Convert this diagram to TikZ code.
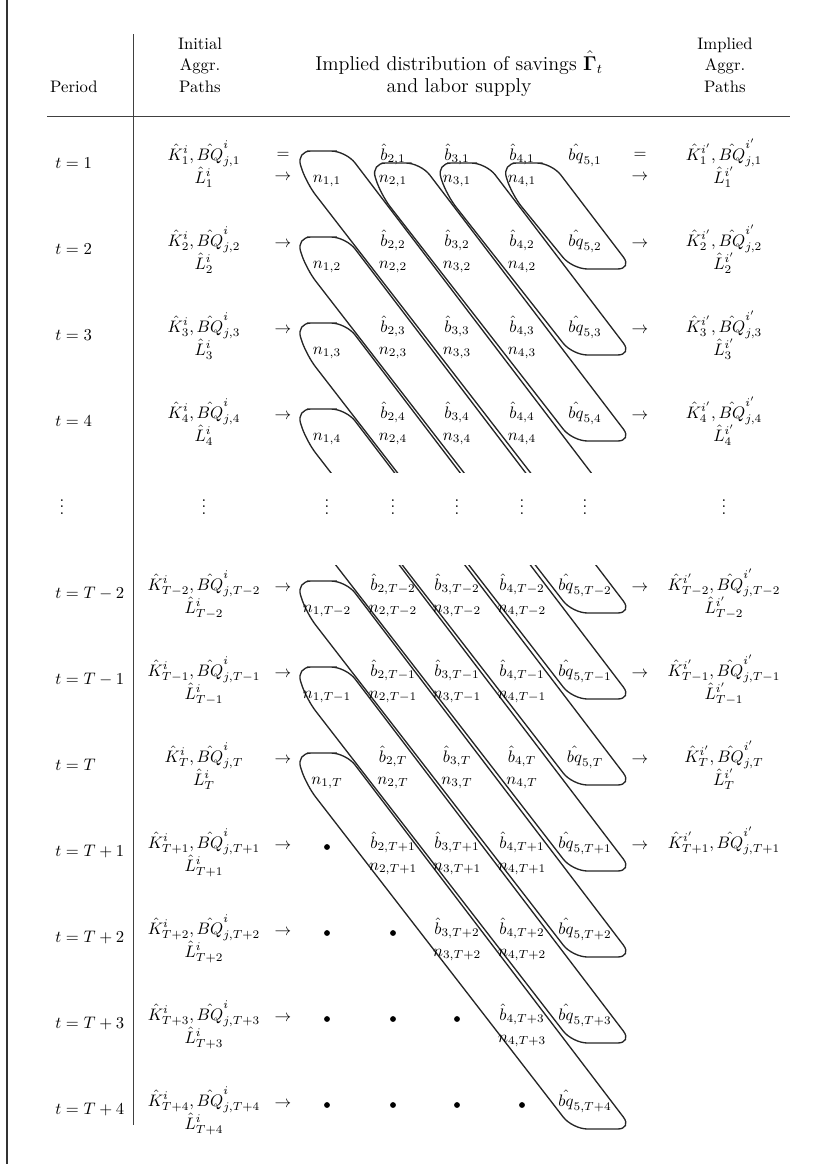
\documentclass[tikz,border=0pt]{standalone}
\usepackage{amsmath}
\usepackage{amssymb}
\usepackage{tikz}

\tikzset{
  lbl/.style={anchor=base,inner sep=0pt},
  perlbl/.style={anchor=base west,inner sep=0pt},
  sym/.style={inner sep=0pt},
  capsule/.style={draw=black!85,line width=0.8pt,rounded corners=9pt},
  emptydot/.style={circle,fill=black,inner sep=0pt,minimum size=3.5pt},
  tablerule/.style={draw=black!75,line width=0.5pt}
}

\newcommand{\cohortloop}[2]{%
  \pgfmathsetmacro\ytop{#2}%
  \pgfmathsetmacro\ybot{183+86*(#1+4)}%
  \pgfmathsetmacro\xtop{305+0.762*(\ytop-176-86*#1)}%
  \pgfmathsetmacro\xbot{305+0.762*(\ybot-176-86*#1)}%
  \draw[capsule] ({\xtop+36},\ytop) -- ({\xtop+60},\ytop)
    -- ({\xbot+60},\ybot) -- (\xbot,\ybot)
    -- ({\xtop+20.4},\ytop+32) -- ({\xtop+10},\ytop) -- cycle;}

\begin{document}
\begin{tikzpicture}[x=0.6pt,y=-0.6pt]
    \useasboundingbox (0,0) rectangle (820,1164);
    \draw[line width=1pt,black!80] (7,0) -- (7,1164);
    \draw[tablerule] (133,34) -- (133,1125);
    \draw[tablerule] (47,116) -- (790,116);

    \node[lbl] (hd-period) at (74,92) {Period};
    \node[lbl] (hd-init1) at (200,49) {Initial};
    \node[lbl] (hd-init2) at (200,70) {Aggr.};
    \node[lbl] (hd-init3) at (200,92) {Paths};
    \node[lbl,font=\large] (hd-dist1) at (459,70)
      {Implied distribution of savings $\hat{\mathbf{\Gamma}}_t$};
    \node[lbl,font=\large] (hd-dist2) at (459,92) {and labor supply};
    \node[lbl] (hd-impl1) at (725,49) {Implied};
    \node[lbl] (hd-impl2) at (725,70) {Aggr.};
    \node[lbl] (hd-impl3) at (725,92) {Paths};

    \begin{scope}
      \clip (0,0) rectangle (820,472);
      \foreach \cid in {-3,-2,-1} {\cohortloop{\cid}{163}}
      \foreach \cid in {0,...,3} {\cohortloop{\cid}{151+86*\cid}}
    \end{scope}
    \begin{scope}
      \clip (0,565) rectangle (820,1164);
      \foreach \cid in {1,...,7} {\cohortloop{\cid}{151+86*\cid}}
    \end{scope}

    \foreach \row/\lab in {0/1,1/2,2/3,3/4} {
      \pgfmathsetmacro\yk{155+86*\row}
      \node[perlbl] (per-\row) at (55,\yk+13) {$t=\lab$};
      \node[lbl] (ink-\row) at (204,\yk+5)
        {$\hat{K}^{i}_{\lab}, \hat{BQ}^{i}_{j,\lab}$};
      \node[lbl] (inl-\row) at (204,\yk+28) {$\hat{L}^{i}_{\lab}$};
      \node[lbl] (n1-\row) at (327,\yk+27) {$n_{1,\lab}$};
      \foreach \col/\cx in {2/393,3/457,4/522} {
        \node[lbl] (b\col-\row) at (\cx,\yk+5) {$\hat{b}_{\col,\lab}$};
        \node[lbl] (n\col-\row) at (\cx,\yk+27) {$n_{\col,\lab}$};
      }
      \node[lbl] (bq-\row) at (585,\yk+5) {$\hat{bq}_{5,\lab}$};
      \node[lbl] (outk-\row) at (724,\yk+5)
        {$\hat{K}^{i'}_{\lab}, \hat{BQ}^{i'}_{j,\lab}$};
      \node[lbl] (outl-\row) at (724,\yk+28) {$\hat{L}^{i'}_{\lab}$};
    }

    \foreach \x [count=\n] in {62,204,327,393,457,522,585,724} {
      \node[sym] (vd-\n) at (\x,502) {$\vdots$};
    }

    \foreach \row/\lab in {5/T-2,6/T-1,7/T,8/T+1,9/T+2,10/T+3,11/T+4} {
      \pgfmathsetmacro\yk{155+86*\row}
      \node[perlbl] (per-\row) at (55,\yk+13) {$t=\lab$};
      \node[lbl] (ink-\row) at (204,\yk+5)
        {$\hat{K}^{i}_{\lab}, \hat{BQ}^{i}_{j,\lab}$};
      \node[lbl] (inl-\row) at (204,\yk+28) {$\hat{L}^{i}_{\lab}$};
      \foreach \col/\cx in {1/327,2/393,3/457,4/522,5/585} {
        \pgfmathtruncatemacro\coh{\row-\col+1}
        \ifnum\coh>7
          \node[emptydot] (d\col-\row) at (\cx,\yk+4) {};
        \else
          \ifnum\col=1
            \node[lbl] (n1-\row) at (\cx,\yk+27) {$n_{1,\lab}$};
          \else\ifnum\col=5
            \node[lbl] (bq-\row) at (\cx,\yk+5) {$\hat{bq}_{5,\lab}$};
          \else
            \node[lbl] (b\col-\row) at (\cx,\yk+5) {$\hat{b}_{\col,\lab}$};
            \node[lbl] (n\col-\row) at (\cx,\yk+27) {$n_{\col,\lab}$};
          \fi\fi
        \fi
      }
    }
    \foreach \row/\lab in {5/T-2,6/T-1,7/T} {
      \pgfmathsetmacro\yk{155+86*\row}
      \node[lbl] (outk-\row) at (724,\yk+5)
        {$\hat{K}^{i'}_{\lab}, \hat{BQ}^{i'}_{j,\lab}$};
      \node[lbl] (outl-\row) at (724,\yk+28) {$\hat{L}^{i'}_{\lab}$};
    }
    \node[lbl] (outk-8) at (724,155+86*8+5)
      {$\hat{K}^{i'}_{T+1}, \hat{BQ}^{i'}_{j,T+1}$};

    \node[sym] (eq-l) at (283,155) {$=$};
    \node[sym] (arl-0) at (283,177) {$\to$};
    \node[sym] (eq-r) at (640,155) {$=$};
    \node[sym] (arr-0) at (640,177) {$\to$};
    \foreach \row in {1,2,3,5,6,7,8} {
      \node[sym] (arl-\row) at (283,155+86*\row+3) {$\to$};
      \node[sym] (arr-\row) at (640,155+86*\row+3) {$\to$};
    }
    \foreach \row in {9,10,11} {
      \node[sym] (arl-\row) at (283,155+86*\row+3) {$\to$};
    }
\end{tikzpicture}
\end{document}
